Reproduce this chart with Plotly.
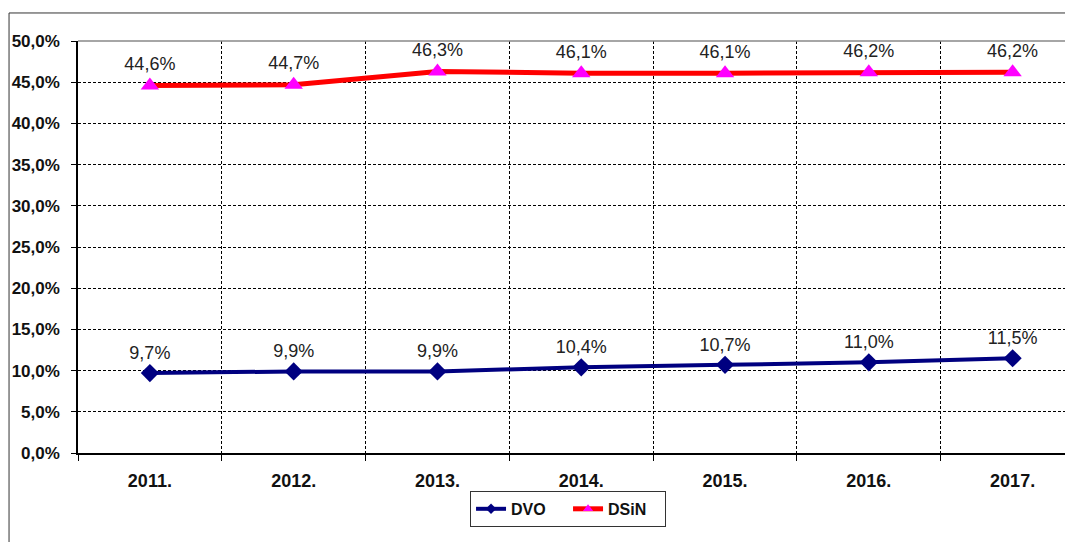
import plotly.graph_objects as go

years = ["2011.", "2012.", "2013.", "2014.", "2015.", "2016.", "2017."]
dvo = [9.7, 9.9, 9.9, 10.4, 10.7, 11.0, 11.5]
dsin = [44.6, 44.7, 46.3, 46.1, 46.1, 46.2, 46.2]
y_ticks = [0, 5, 10, 15, 20, 25, 30, 35, 40, 45, 50]
y_tick_text = [f"{v:.1f}%".replace(".", ",") for v in y_ticks]

xpos = list(range(len(years)))

NAVY = "#000080"
RED = "#FF0000"
MAGENTA = "#FF00FF"
FONT = "Arial, Liberation Sans, sans-serif"


def lab(vals):
    return [f"{v:.1f}%".replace(".", ",") for v in vals]


fig = go.Figure()
fig.add_trace(go.Scatter(
    x=xpos, y=dvo, name="DVO", mode="lines+markers+text", showlegend=False,
    line=dict(color=NAVY, width=4),
    marker=dict(symbol="diamond", size=14, color=NAVY),
    text=lab(dvo), textposition="top center",
    textfont=dict(family=FONT, size=18, color="#222222"),
    cliponaxis=False,
))
fig.add_trace(go.Scatter(
    x=xpos, y=dsin, name="DSiN", mode="lines+markers+text", showlegend=False,
    line=dict(color=RED, width=5),
    marker=dict(symbol="triangle-up", size=16, color=MAGENTA),
    text=lab(dsin), textposition="top center",
    textfont=dict(family=FONT, size=18, color="#222222"),
    cliponaxis=False,
))
# legend entries (smaller symbols, as in the reference legend)
fig.add_trace(go.Scatter(
    x=[None], y=[None], name="DVO", mode="lines+markers",
    line=dict(color=NAVY, width=4),
    marker=dict(symbol="diamond", size=8, color=NAVY),
))
fig.add_trace(go.Scatter(
    x=[None], y=[None], name="DSiN", mode="lines+markers",
    line=dict(color=RED, width=5),
    marker=dict(symbol="triangle-up", size=9, color=MAGENTA),
))

fig.update_layout(
    width=1065, height=534,
    margin=dict(l=70, r=0, t=33, b=89),
    paper_bgcolor="white", plot_bgcolor="white",
    font=dict(family=FONT, color="#111111"),
    showlegend=True,
    legend=dict(
        orientation="h", x=0.4925, xanchor="center", y=-0.092, yanchor="top",
        bordercolor="#333333", borderwidth=1,
        font=dict(family=FONT, size=16, weight="bold", color="#111111"),
        entrywidth=52, entrywidthmode="pixels", tracegroupgap=0,
    ),
    shapes=[
        dict(type="rect", xref="paper", yref="paper",
             x0=-0.0693, x1=1.05, y0=-0.3, y1=1.068,
             line=dict(color="#333333", width=1), layer="below"),
        dict(type="line", xref="paper", yref="paper",
             x0=0, x1=1, y0=1, y1=1,
             line=dict(color="#888888", width=1.5), layer="above"),
    ],
)
fig.update_xaxes(
    range=[-0.5, 6.42], tickvals=xpos, ticktext=years,
    tickfont=dict(family=FONT, size=18, weight="bold", color="#111111"),
    showgrid=False, zeroline=False,
    showline=True, linecolor="#000000", linewidth=1.5,
    ticks="", ticklabelstandoff=11,
    minor=dict(tickvals=[i + 0.5 for i in range(-1, 7)], showgrid=True,
               gridcolor="#000000", griddash="3px,2px", gridwidth=1,
               ticks="outside", ticklen=6, tickcolor="#000000"),
)
fig.update_yaxes(
    range=[0, 50], tickvals=y_ticks, ticktext=y_tick_text,
    tickfont=dict(family=FONT, size=17, weight="bold", color="#111111"),
    showgrid=True, gridcolor="#000000", griddash="3px,2px", gridwidth=1,
    zeroline=False,
    showline=True, linecolor="#000000", linewidth=1.5,
    ticks="outside", ticklen=5, tickcolor="#000000", ticklabelstandoff=8,
)

fig.write_html("out.html")
